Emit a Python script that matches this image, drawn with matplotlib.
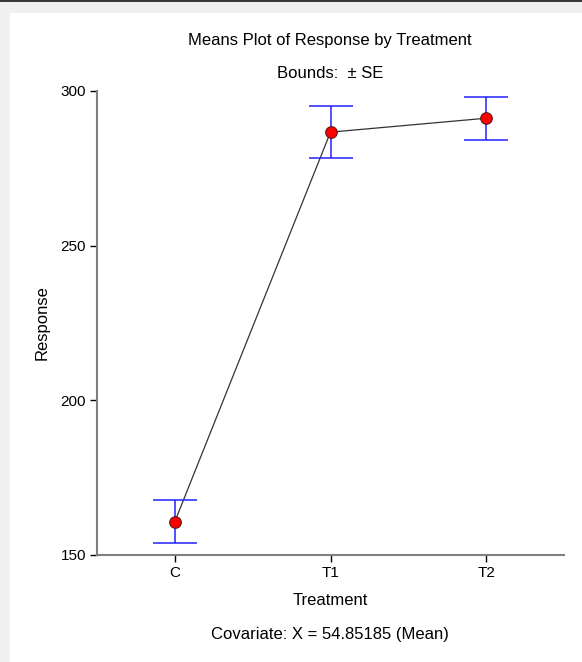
import matplotlib.pyplot as plt
from matplotlib.patches import Rectangle

treatments = ["C", "T1", "T2"]
means = [160.8, 286.7, 291.2]
se = [7.0, 8.3, 6.9]
yticks = [150, 200, 250, 300]

plt.rcParams["font.family"] = ["Liberation Sans", "DejaVu Sans"]

W, H = 582, 662
fig = plt.figure(figsize=(W / 100, H / 100), dpi=100)
fig.patch.set_facecolor("#f0f0f0")
fig.patches.append(Rectangle((10 / W, 0), 1, (H - 13) / H, transform=fig.transFigure,
                             facecolor="white", edgecolor="none", zorder=-10))
fig.patches.append(Rectangle((0, (H - 2) / H), 1, 2 / H, transform=fig.transFigure,
                             facecolor="#3a3a3a", edgecolor="none", zorder=-10))

ax = fig.add_axes([97 / W, (H - 555) / H, (564 - 97) / W, (555 - 91) / H])
ax.set_facecolor("none")
x = list(range(len(treatments)))

ax.plot(x, means, color="#333333", linewidth=0.9, zorder=2)
ax.errorbar(x, means, yerr=se, fmt="none", ecolor="#2222ff", elinewidth=1.1,
            capsize=16, capthick=1.1, zorder=3)
ax.scatter(x, means, s=70, facecolor="#ff0000", edgecolor="#5a1a1a",
           linewidth=0.8, zorder=4)

ax.set_xlim(-0.5, 2.5)
ax.set_ylim(150, 300)
ax.set_xticks(x)
ax.set_xticklabels(treatments)
ax.set_yticks(yticks)
ax.tick_params(axis="both", direction="out", length=5, width=1, color="black",
               labelsize=11, labelcolor="black", pad=3)
ax.tick_params(axis="x", pad=3)
for s in ("top", "right"):
    ax.spines[s].set_visible(False)
for s in ("left", "bottom"):
    ax.spines[s].set_color("#808080")
    ax.spines[s].set_linewidth(1.5)

ax.set_xlabel("Treatment", fontsize=12, labelpad=9)
ax.set_ylabel("Response", fontsize=12, labelpad=8)

fig.text(330 / W, 1 - 40 / H, "Means Plot of Response by Treatment",
         ha="center", va="center", fontsize=12)
fig.text(330 / W, 1 - 74 / H, "Bounds:  \u00b1 SE",
         ha="center", va="center", fontsize=12)
fig.text(330 / W, 1 - 635 / H, "Covariate: X = 54.85185 (Mean)",
         ha="center", va="center", fontsize=12)

fig.savefig("out.png", dpi=100)
